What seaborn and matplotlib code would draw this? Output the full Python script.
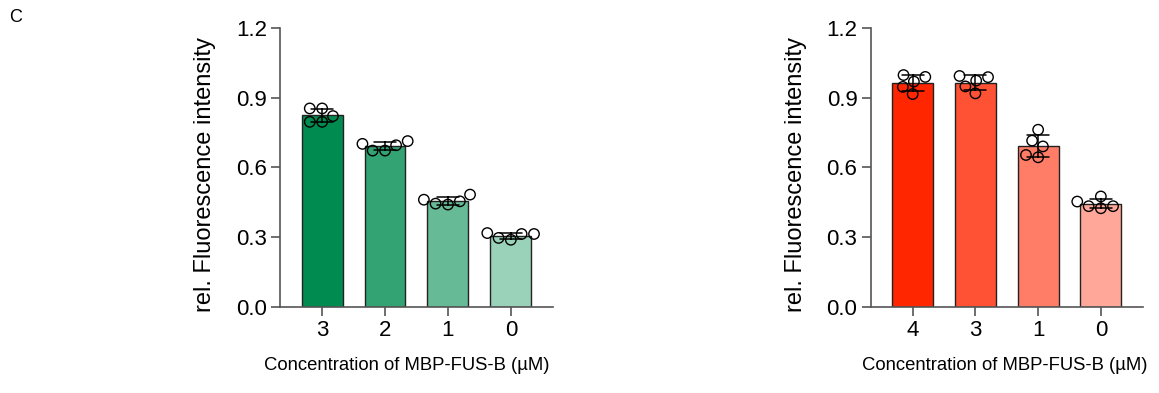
# Importando bibliotecas
import pandas as pd
import seaborn as sns
import matplotlib.pyplot as plt
from matplotlib.ticker import FormatStrFormatter

# Dados (5 réplicas por concentração)
conc_verde = ['3', '2', '1', '0']
reps_verde = [
    [0.855, 0.855, 0.822, 0.797, 0.797],
    [0.714, 0.696, 0.702, 0.673, 0.673],
    [0.483, 0.461, 0.444, 0.454, 0.440],
    [0.296, 0.313, 0.317, 0.313, 0.288],
]
cores_verde = ['#008C50', '#33A373', '#66BA96', '#99D1B9']

conc_vermelho = ['4', '3', '1', '0']
reps_vermelho = [
    [0.999, 0.971, 0.991, 0.948, 0.917],
    [0.995, 0.975, 0.990, 0.950, 0.920],
    [0.763, 0.716, 0.691, 0.644, 0.654],
    [0.475, 0.453, 0.433, 0.433, 0.424],
]
cores_vermelho = ['#FF2600', '#FF5133', '#FF7D66', '#FFA899']

rotulo_x = 'Concentration of MBP-FUS-B (µM)'
rotulo_y = 'rel. Fluorescence intensity'

sns.set_style('ticks')
plt.rcParams['font.family'] = ['Liberation Sans', 'DejaVu Sans']
plt.rcParams['text.color'] = 'k'
plt.rcParams['axes.labelcolor'] = 'k'

cinza = '#555555'


def painel(ax, conc, reps, cores, pos_xlabel):
    df = pd.DataFrame({
        'conc': [c for c, r in zip(conc, reps) for _ in r],
        'valor': [v for r in reps for v in r],
    })
    sns.barplot(data=df, x='conc', y='valor', order=conc, hue='conc',
                hue_order=conc, palette=cores, legend=False, errorbar='sd',
                capsize=0.35, width=0.65, edgecolor='#222222', linewidth=1.0,
                err_kws={'color': 'k', 'linewidth': 1.1}, saturation=1, ax=ax)
    sns.swarmplot(data=df, x='conc', y='valor', order=conc, color='k',
                  size=7.5, ax=ax)
    # círculos vazados
    for coll in ax.collections:
        coll.set_facecolor('none')
        coll.set_edgecolor('k')
        coll.set_linewidth(1.0)

    ax.set_ylim(0, 1.2)
    ax.set_yticks([0, 0.3, 0.6, 0.9, 1.2])
    ax.yaxis.set_major_formatter(FormatStrFormatter('%.1f'))
    ax.set_xlim(-0.67, 3.67)
    sns.despine(ax=ax)
    for lado in ['left', 'bottom']:
        ax.spines[lado].set_color(cinza)
        ax.spines[lado].set_linewidth(1.2)
    ax.tick_params(length=6.5, width=1.2, color=cinza, labelcolor='k',
                   labelsize=16, pad=3)
    ax.set_xlabel(rotulo_x, fontsize=13.3, color='k')
    ax.set_ylabel(rotulo_y, fontsize=17, color='k')
    ax.xaxis.set_label_coords(pos_xlabel, -0.18)
    ax.yaxis.set_label_coords(-0.235, 0.475)


fig = plt.figure(figsize=(11.59, 3.93), dpi=100)
ax1 = fig.add_axes([0.2416, 0.2201, 0.2355, 0.7074])
ax2 = fig.add_axes([0.7512, 0.2201, 0.2349, 0.7074])

painel(ax1, conc_verde, reps_verde, cores_verde, 0.463)
painel(ax2, conc_vermelho, reps_vermelho, cores_vermelho, 0.493)

fig.text(0.008, 0.955, 'C', fontsize=13, ha='left', va='center', color='k')

fig.savefig('out.png', dpi=100)
